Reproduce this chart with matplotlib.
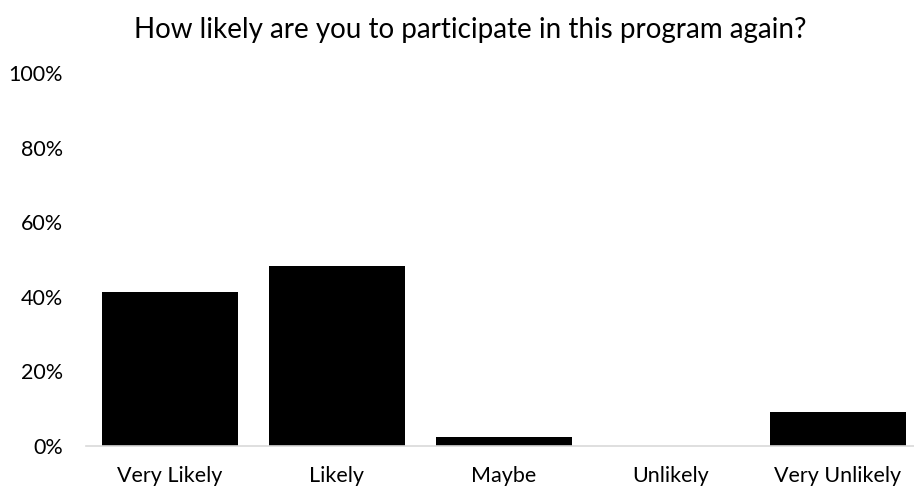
import matplotlib.pyplot as plt
from matplotlib.ticker import PercentFormatter


# ============================================================
# Data
# ============================================================

categories = ["Very Likely", "Likely", "Maybe", "Unlikely", "Very Unlikely"]

shares = [41.3, 48.2, 2.5, 0.0, 9.2]

y_ticks = [0, 20, 40, 60, 80, 100]

title = "How likely are you to participate in this program again?"


# ============================================================
# Plot
# ============================================================

plt.rcParams["font.family"] = ["Lato", "DejaVu Sans"]

fig = plt.figure(figsize=(9.14, 4.90), dpi=100)

ax = fig.add_axes([0.0946, 0.0898, 0.9136, 0.761])

positions = range(len(categories))

ax.bar(
    positions,
    shares,
    width=0.81,
    color="black",
    zorder=2
)

ax.set_xlim(-0.5, len(categories) - 0.5)

ax.set_ylim(0, 100)

ax.set_yticks(y_ticks)

ax.yaxis.set_major_formatter(PercentFormatter(decimals=0))

ax.set_xticks(list(positions))

ax.set_xticklabels(categories)

ax.tick_params(axis="both", length=0, labelsize=15.5, colors="#000000")

ax.tick_params(axis="y", pad=17)

ax.tick_params(axis="x", pad=14.5)

for side in ["top", "right", "left"]:
    ax.spines[side].set_visible(False)

ax.spines["bottom"].set_color("#d9d9d9")

ax.spines["bottom"].set_linewidth(1.2)

fig.text(
    470 / 914,
    1 - 30 / 490,
    title,
    ha="center",
    va="center",
    fontsize=20
)

fig.savefig("out.png", dpi=100)

plt.close(fig)
